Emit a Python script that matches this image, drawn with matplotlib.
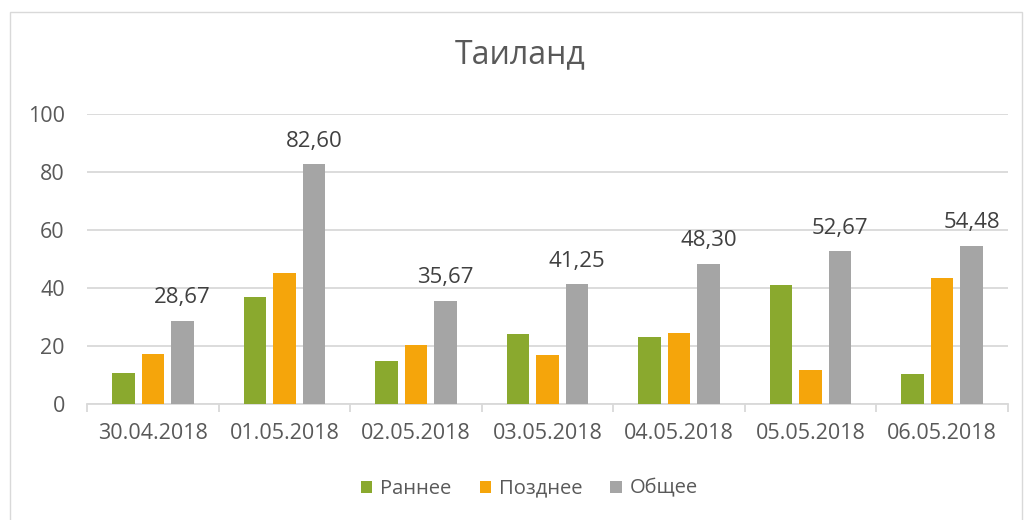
import matplotlib
matplotlib.use("Agg")
import matplotlib.pyplot as plt
import numpy as np
from matplotlib.patches import Rectangle

plt.rcParams['font.family'] = ['Open Sans', 'DejaVu Sans']

dates = ["30.04.2018", "01.05.2018", "02.05.2018", "03.05.2018",
         "04.05.2018", "05.05.2018", "06.05.2018"]
early = [10.7, 36.9, 14.7, 24.0, 23.2, 40.9, 10.4]
late = [17.3, 45.3, 20.4, 16.9, 24.4, 11.6, 43.6]
total = [28.67, 82.60, 35.67, 41.25, 48.30, 52.67, 54.48]
series_names = ["Раннее", "Позднее", "Общее"]
colors = ["#8AA92E", "#F5A50B", "#A5A5A5"]

text_color = "#595959"

fig = plt.figure(figsize=(10.3, 5.2), dpi=100)
ax = fig.add_axes([0.0845, 0.223, 0.8941, 0.558])

# light frame around the chart area
fig.patches.append(Rectangle((10 / 1030, -0.01), 1012 / 1030, 1 - 12 / 520 + 0.01,
                             transform=fig.transFigure, fill=False,
                             edgecolor="#D9D9D9", linewidth=1))

x = np.arange(len(dates))
w = 0.172
step = 0.224
for i, vals in enumerate([early, late, total]):
    ax.bar(x + (i - 1) * step, vals, width=w, color=colors[i],
           label=series_names[i], zorder=3)

for xi, v in zip(x, total):
    ax.annotate(f"{v:.2f}".replace(".", ","), (xi + step, v),
                xytext=(0, 9), textcoords="offset points",
                ha="center", va="bottom", fontsize=16, color="#404040")

ax.set_xlim(-0.5, len(dates) - 0.5)
ax.set_ylim(0, 100)
ax.set_yticks(range(0, 101, 20))
ax.grid(axis="y", color="#D9D9D9", linewidth=1.3, zorder=0)
ax.set_axisbelow(True)

ax.set_xticks(x)
ax.set_xticklabels(dates)
ax.set_xticks(np.arange(-0.5, len(dates)), minor=True)
ax.tick_params(axis="x", which="major", length=0, pad=14, labelsize=15.5, colors=text_color)
ax.tick_params(axis="x", which="minor", length=6, color="#D9D9D9", width=1.3)
ax.tick_params(axis="y", length=0, pad=16, labelsize=15.5, colors=text_color)

for s in ["top", "right", "left"]:
    ax.spines[s].set_visible(False)
ax.spines["bottom"].set_color("#D9D9D9")
ax.spines["bottom"].set_linewidth(1.3)

fig.text(0.505, 0.895, "Таиланд", ha="center", va="center", fontsize=23, color=text_color)

fig.legend(loc="center", bbox_to_anchor=(0.514, 0.06), ncol=3, frameon=False,
           fontsize=14.5, handlelength=0.55, handleheight=0.55, handletextpad=0.4,
           columnspacing=1.4, labelcolor=text_color)

fig.savefig("out.png", dpi=100)
